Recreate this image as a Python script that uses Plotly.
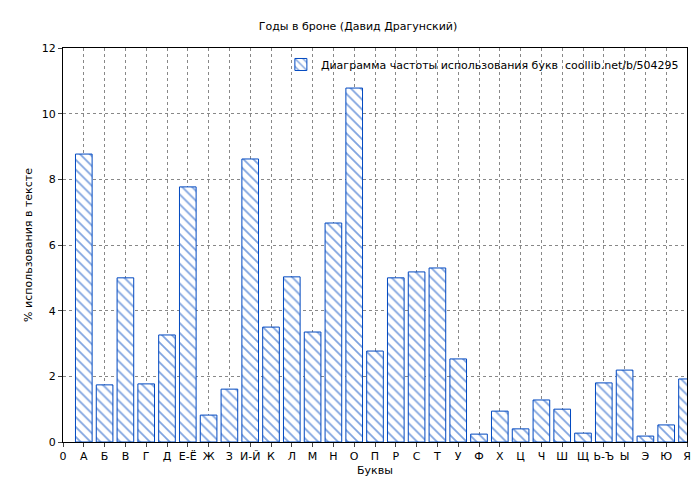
import plotly.graph_objects as go

letters = ["А", "Б", "В", "Г", "Д", "Е-Ё", "Ж", "З", "И-Й", "К", "Л", "М", "Н", "О", "П",
           "Р", "С", "Т", "У", "Ф", "Х", "Ц", "Ч", "Ш", "Щ", "Ь-Ъ", "Ы", "Э", "Ю", "Я"]
percent = [8.77, 1.74, 5.0, 1.77, 3.26, 7.77, 0.82, 1.61, 8.62, 3.5, 5.03, 3.35, 6.67, 10.78, 2.77,
           5.0, 5.18, 5.3, 2.53, 0.24, 0.94, 0.4, 1.28, 1.0, 0.27, 1.8, 2.19, 0.18, 0.52, 1.92]
positions = list(range(1, len(letters) + 1))
tick_text = ["0"] + letters

fig = go.Figure()
fig.add_trace(go.Bar(
    x=positions, y=percent, width=0.8,
    name="Диаграмма частоты использования букв  coollib.net/b/504295",
    marker=dict(color="white", line=dict(color="#0048c0", width=1),
                pattern=dict(shape="\\", fgcolor="#0048c0", bgcolor="white", size=7, solidity=0.25)),
))

axis_common = dict(showline=True, linecolor="black", mirror=True, ticks="outside", ticklen=4,
                   showgrid=True, gridcolor="#888888", griddash="dot", zeroline=False,
                   automargin=False, title_font=dict(size=11))
fig.update_xaxes(range=[0, 30], tickvals=list(range(0, 31)), ticktext=tick_text,
                 title=dict(text="Буквы", standoff=4), **axis_common)
fig.update_yaxes(range=[0, 12], dtick=2, title=dict(text="% использования в тексте", standoff=6),
                 **axis_common)

fig.update_layout(
    width=700, height=480,
    title=dict(text="Годы в броне (Давид Драгунский)", x=0.5, y=0.97, font=dict(size=11)),
    font=dict(family="DejaVu Sans", size=11, color="black"),
    paper_bgcolor="white", plot_bgcolor="white",
    margin=dict(l=55, r=21, t=40, b=46),
    showlegend=True,
    legend=dict(x=0.995, y=0.995, xanchor="right", yanchor="top", bgcolor="rgba(255,255,255,0)",
                font=dict(size=11)),
)

fig.write_html("out.html")
